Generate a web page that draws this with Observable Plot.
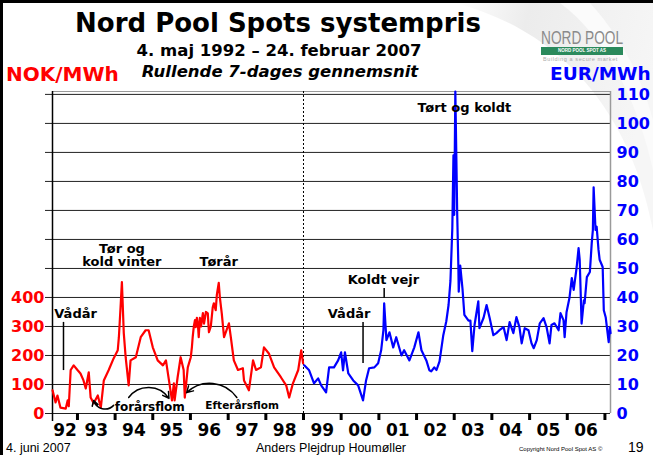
<!DOCTYPE html>
<html><head><meta charset="utf-8">
<script src="https://cdn.jsdelivr.net/npm/d3@7"></script>
<script src="https://cdn.jsdelivr.net/npm/@observablehq/plot@0.6"></script>
<style>
html,body{margin:0;padding:0;background:#fff;}
#wrap{position:relative;width:653px;height:455px;overflow:hidden;background:#fff;font-family:"DejaVu Sans",sans-serif;}
.t{position:absolute;white-space:nowrap;line-height:1;z-index:3;}
#plot{position:absolute;left:0;top:0;z-index:2;}
#plot svg{overflow:visible;}
#frame{position:absolute;left:0;top:0;width:653px;height:455px;box-sizing:border-box;border-top:3px solid #000;border-left:3px solid #000;z-index:5;pointer-events:none;}
#bg{position:absolute;left:0;top:0;z-index:1;}
</style></head>
<body><div id="wrap">
<svg id="bg" width="653" height="455"><defs><linearGradient id="g" x1="0" y1="0" x2="1" y2="0.3"><stop offset="0" stop-color="#ffffff"/><stop offset="0.35" stop-color="#ececec"/><stop offset="1" stop-color="#f6f6f6"/></linearGradient></defs>
<path d="M 455 3 C 560 30 630 110 653 230 L 653 3 Z" fill="url(#g)"/>
<path d="M 560 3 C 610 40 640 110 653 170 L 653 120 C 640 70 615 30 590 3 Z" fill="#fbfbfb"/></svg>
<div id="plot"></div>
<div class="t" style="left:0;width:556px;top:10px;text-align:center;font-size:26px;font-weight:bold;">Nord Pool Spots systempris</div>
<div class="t" style="left:0;width:558px;top:43px;text-align:center;font-size:16.5px;font-weight:bold;">4. maj 1992 – 24. februar 2007</div>
<div class="t" style="left:0;width:560px;top:64px;text-align:center;font-size:16.5px;font-weight:bold;font-style:italic;">Rullende 7-dages gennemsnit</div>
<div class="t" style="left:6px;top:64px;font-size:20px;font-weight:bold;color:#ff0000;">NOK/MWh</div>
<div class="t" style="left:550px;top:65px;font-size:18.5px;font-weight:bold;color:#0000ff;">EUR/MWh</div>
<div class="t" style="left:541px;top:29px;font-size:18px;font-family:'Liberation Sans';color:#8a8a8a;transform:scaleX(0.76);transform-origin:0 0;">NORD POOL</div>
<div class="t" style="left:541px;top:47px;width:82px;height:8px;background:#2b8a5c;color:#fff;font-size:4.5px;font-family:'Liberation Sans';font-weight:bold;text-align:center;line-height:8px;">NORD POOL SPOT AS</div>
<div class="t" style="left:543px;top:57px;font-size:5.5px;font-family:'Liberation Sans';color:#aaa;letter-spacing:0.6px;">Building a secure market</div>
<div class="t" style="left:6px;top:442px;font-size:12.5px;font-family:'Liberation Sans';">4. juni 2007</div>
<div class="t" style="left:231px;width:200px;top:442px;text-align:center;font-size:12.5px;font-family:'Liberation Sans';">Anders Plejdrup Houmøller</div>
<div class="t" style="left:519px;top:446px;font-size:6px;font-family:'Liberation Sans';">Copyright Nord Pool Spot AS ©</div>
<div class="t" style="left:628px;top:440px;font-size:14px;font-family:'Liberation Sans';">19</div>
<div id="frame"></div>
</div>
<script>
// NOK period (rolling 7-day average), decimal years
const redYears = [1992.34,1992.42,1992.47,1992.55,1992.69,1992.74,1992.77,1992.82,1992.90,
  1993.00,1993.08,1993.16,1993.22,1993.30,1993.35,1993.43,1993.54,1993.62,1993.70,1993.83,1993.96,
  1994.07,1994.10,1994.15,1994.18,1994.23,1994.28,1994.36,1994.41,1994.55,1994.68,1994.81,1994.89,
  1995.00,1995.13,1995.27,1995.35,1995.43,1995.51,1995.56,1995.58,1995.66,1995.74,1995.82,1995.85,1995.93,
  1996.01,1996.04,1996.06,1996.09,1996.12,1996.14,1996.17,1996.20,1996.22,1996.25,1996.28,1996.33,1996.36,
  1996.41,1996.46,1996.49,1996.54,1996.59,1996.62,1996.67,1996.70,1996.75,1996.78,1996.81,1996.83,1996.89,
  1997.02,1997.07,1997.15,1997.26,1997.39,1997.42,1997.55,1997.66,1997.74,1997.87,1997.95,
  1998.08,1998.22,1998.40,1998.54,1998.62,1998.72,1998.86,1998.94,1998.99];
const redNOK = [80,38,62,20,17,45,25,150,166,
  150,138,114,86,142,55,35,62,20,114,150,190,
  218,263,380,453,277,194,97,183,194,263,287,287,
  228,183,166,183,114,45,104,45,125,194,150,55,159,
  194,230,263,300,322,298,330,303,263,330,300,346,310,
  350,345,280,300,365,380,356,410,450,400,367,345,263,
  311,263,183,150,156,114,80,183,150,159,228,
  207,159,125,97,55,104,150,218,173];
// EUR period
const blueYears = [1999.02,1999.15,1999.28,1999.39,1999.47,1999.60,1999.68,1999.81,1999.92,
  2000.00,2000.05,2000.10,2000.19,2000.32,2000.45,2000.58,2000.66,2000.74,2000.88,2000.98,
  2001.06,2001.12,2001.14,2001.20,2001.28,2001.38,2001.46,2001.60,2001.67,2001.81,2001.94,
  2002.05,2002.13,2002.26,2002.34,2002.39,2002.47,2002.53,2002.61,2002.71,2002.79,2002.85,2002.90,2002.95,2002.98,
  2003.00,2003.03,2003.08,2003.11,2003.12,2003.16,2003.22,2003.27,2003.38,2003.43,2003.48,2003.54,2003.64,2003.67,2003.78,2003.86,2003.94,
  2004.04,2004.12,2004.20,2004.31,2004.39,2004.47,2004.57,2004.65,2004.73,2004.79,2004.87,2004.97,
  2005.05,2005.11,2005.19,2005.27,2005.37,2005.45,2005.53,2005.58,2005.66,2005.77,2005.82,2005.90,2005.93,2005.98,
  2006.06,2006.12,2006.17,2006.25,2006.30,2006.33,2006.38,2006.44,2006.46,2006.52,2006.60,2006.65,2006.68,2006.70,2006.75,2006.78,2006.83,2006.86,2006.94,2006.97,
  2007.02,2007.10,2007.13,2007.15];
const blueEUR = [16.6,14.9,10.4,12.1,9.7,7.3,15.9,15.9,18.3,
  21.1,14.9,21.1,13.8,11.4,9.7,4.5,11.4,15.6,15.9,17.3,
  21.8,28.7,38,25.3,28,22.8,26.3,20,21.8,18.3,22.8,
  28,21.8,18.3,14.9,14.5,15.9,15,18,27,31.8,37.4,45.7,64,89,
  68.5,111,68.5,51,42,51,43,34,32,32,21.5,30.5,38.7,29.4,33,37.4,33,
  27,27.7,28.7,29.8,25.3,31.5,27.7,33.2,29.8,24.2,29.4,28.7,
  24.2,22.5,25.3,31.1,32.9,29.8,24.2,30.5,31.1,28.7,34.6,32.2,26.3,34.9,
  40,46.7,42.6,50.5,57,53,31,39,38,47,48.8,58.8,63.3,78,63.3,64.4,56.4,53,50.5,35.6,
  33.2,24.6,29.8,27.7];

const gridEUR = [0,10,20,30,40,50,60,70,80,90,100,110];
const leftNOKLabels = [0,100,200,300,400];
const rightEURLabels = [0,10,20,30,40,50,60,70,80,90,100,110];
const tickYears = [1993,1994,1995,1996,1997,1998,1999,2000,2001,2002,2003,2004,2005,2006,2007];
const labelYears = [1992,1993,1994,1995,1996,1997,1998,1999,2000,2001,2002,2003,2004,2005,2006];
const yearLabels = ["92","93","94","95","96","97","98","99","00","01","02","03","04","05","06"];

const annotations = [
  {text: "Tør og", x: 1994.18, y: 55.4, size: 13, anchor: "middle"},
  {text: "kold vinter", x: 1994.18, y: 50.7, size: 13, anchor: "middle"},
  {text: "Tørår", x: 1996.75, y: 50.7, size: 13, anchor: "middle"},
  {text: "Vådår", x: 1992.95, y: 32.8, size: 13, anchor: "middle"},
  {text: "Vådår", x: 2000.21, y: 32.8, size: 13, anchor: "middle"},
  {text: "Koldt vejr", x: 2001.12, y: 44.5, size: 13, anchor: "middle"},
  {text: "forårsflom", x: 1994.92, y: 0.7, size: 12, anchor: "middle"},
  {text: "Efterårsflom", x: 1997.37, y: 1.4, size: 10.5, anchor: "middle"},
  {text: "Tørt og koldt", x: 2003.27, y: 103.8, size: 13, anchor: "start"}
];
const pointerLines = [
  {x: 1992.63, y1: 31.4, y2: 14.8},
  {x: 2000.58, y1: 31.4, y2: 17.2},
  {x: 2001.14, y1: 43.1, y2: 39.7}
];
const arrowsDown = [{x1: 1993.96, y1: 2.8, x2: 1993.43, y2: 4.5}];
const arrowsUpRight = [{x1: 1994.36, y1: 5.5, x2: 1995.43, y2: 5.2}];
const arrowsUpLeft = [{x1: 1997.23, y1: 5.5, x2: 1995.90, y2: 7.2}];

function yd(y) {
  const yr = Math.floor(y);
  const a = Date.UTC(yr, 0, 1), b = Date.UTC(yr + 1, 0, 1);
  return new Date(a + (y - yr) * (b - a));
}
const start = new Date(Date.UTC(1992, 4, 4));
const end = new Date(Date.UTC(2007, 1, 24));
const euroStart = new Date(Date.UTC(1999, 0, 1));

const red = redYears.map((y, i) => ({date: yd(y), nok: redNOK[i]}));
const blue = blueYears.map((y, i) => ({date: yd(y), eur: blueEUR[i]}));
const tickDates = tickYears.map(y => new Date(Date.UTC(y, 0, 1)));
const labelDates = labelYears.map(y => {
  const a = Math.max(Date.UTC(y, 0, 1), +start), b = Math.min(Date.UTC(y + 1, 0, 1), +end);
  return new Date((a + b) / 2);
});

const plot = Plot.plot({
  width: 653, height: 455,
  marginTop: 91, marginBottom: 42, marginLeft: 52, marginRight: 43,
  x: {type: "utc", domain: [start, end]},
  y: {domain: [0, 111]},
  style: {background: "transparent", fontFamily: "DejaVu Sans", color: "#000"},
  marks: [
    Plot.ruleY(gridEUR, {stroke: "#222", strokeWidth: 1, insetLeft: -7}),
    Plot.ruleY([111], {stroke: "#9a9a9a", strokeWidth: 1.2}),
    Plot.ruleX([end], {stroke: "#9a9a9a", strokeWidth: 1.5}),
    Plot.ruleX([euroStart], {stroke: "#000", strokeWidth: 1, strokeDasharray: "2,2"}),
    Plot.ruleX([start], {stroke: "#000", strokeWidth: 1.5, insetBottom: -8}),
    Plot.ruleX(pointerLines, {x: d => yd(d.x), y1: "y1", y2: "y2", stroke: "#000", strokeWidth: 1.5}),
    Plot.line(red, {x: "date", y: d => d.nok / 10, stroke: "#ff0000", strokeWidth: 2.2, strokeLinejoin: "round"}),
    Plot.line(blue, {x: "date", y: "eur", stroke: "#0000ff", strokeWidth: 2.2, strokeLinejoin: "round"}),
    Plot.axisY({anchor: "left", ticks: leftNOKLabels.map(v => v / 10), tickSize: 0, tickPadding: 8,
      tickFormat: d => String(d * 10), fill: "#ff0000", fontSize: 16, fontWeight: "bold", label: null}),
    Plot.axisY({anchor: "right", ticks: rightEURLabels, tickSize: 0, tickPadding: 6,
      fill: "#0000ff", fontSize: 16, fontWeight: "bold", label: null}),
    Plot.axisX({ticks: tickDates, tickSize: 7, strokeWidth: 3, stroke: "#000", tickFormat: () => "", label: null}),
    Plot.axisX({ticks: labelDates, tickSize: 0, tickPadding: 10, fontSize: 17, fontWeight: "bold",
      tickFormat: d => yearLabels[labelYears.indexOf(d.getUTCFullYear())], label: null}),
    Plot.text(annotations, {x: d => yd(d.x), y: "y", text: "text", fontSize: d => d.size,
      textAnchor: d => d.anchor, lineAnchor: "bottom", fontWeight: "bold", fill: "#000"}),
    Plot.arrow(arrowsDown, {x1: d => yd(d.x1), y1: "y1", x2: d => yd(d.x2), y2: "y2", bend: 60, headLength: 6, strokeWidth: 1.5, stroke: "#000"}),
    Plot.arrow(arrowsUpRight, {x1: d => yd(d.x1), y1: "y1", x2: d => yd(d.x2), y2: "y2", bend: 55, headLength: 7, strokeWidth: 1.5, stroke: "#000"}),
    Plot.arrow(arrowsUpLeft, {x1: d => yd(d.x1), y1: "y1", x2: d => yd(d.x2), y2: "y2", bend: -50, headLength: 7, strokeWidth: 1.5, stroke: "#000"})
  ]
});
document.getElementById("plot").appendChild(plot);
</script>
</body></html>
